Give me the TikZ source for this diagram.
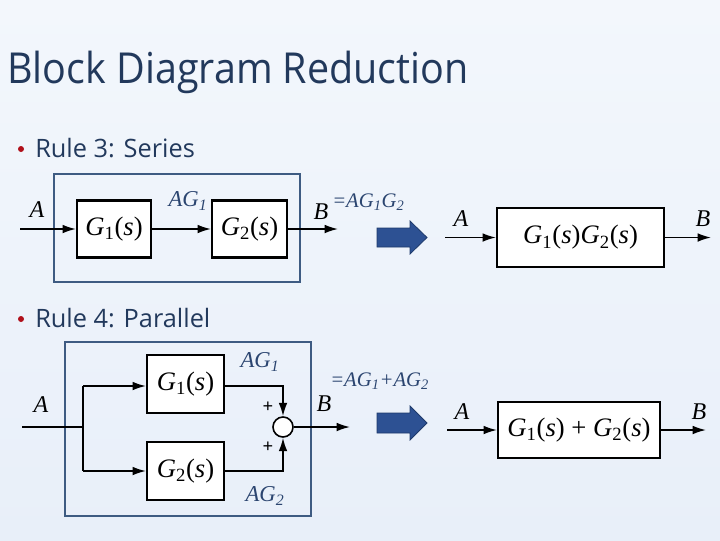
\documentclass[tikz,border=0pt]{standalone}
\usepackage{fontspec}
\setmainfont{Liberation Serif}
\newfontfamily\uifont{Open Sans}
\usetikzlibrary{arrows.meta,positioning}
\definecolor{bgA}{HTML}{F3F7FC}
\definecolor{bgB}{HTML}{E8EFF9}
\definecolor{titleblue}{HTML}{22395C}
\definecolor{lblblue}{HTML}{2B4570}
\definecolor{framec}{HTML}{3E5B82}
\definecolor{arrfill}{HTML}{2D5193}
\definecolor{arredge}{HTML}{1E3A6B}
\definecolor{bulletred}{HTML}{B0101A}
\newcommand{\Gs}[1]{\textit{G}\textsubscript{#1}(\textit{s})}
\begin{document}
\begin{tikzpicture}[x=0.75pt,y=-0.75pt,
  blk/.style={draw=black,line width=1.6pt,fill=white,inner sep=0pt,font=\fontsize{20}{20}\selectfont},
  frame/.style={draw=framec,line width=0.8pt,inner sep=0pt},
  sig/.style={line width=1.2pt,-{Latex[length=10pt,width=6.5pt]}},
  wire/.style={line width=1.2pt},
  lbl/.style={font=\fontsize{18}{18}\selectfont\itshape,inner sep=0pt},
  blbl/.style={font=\fontsize{17}{17}\selectfont\itshape,text=lblblue,inner sep=0pt},
  slbl/.style={font=\fontsize{15.5}{15.5}\selectfont\itshape,text=lblblue,inner sep=0pt},
  pls/.style={font=\bfseries\fontsize{14}{14}\selectfont,inner sep=0pt},
  bigarrow/.style={fill=arrfill,draw=arredge,line width=0.6pt},
  bul/.style={font=\uifont\fontsize{19}{19}\selectfont,text=titleblue,anchor=base west,inner sep=0pt}]
\useasboundingbox (0,0) rectangle (720,540);
\shade[top color=bgA,bottom color=bgB] (0,0) rectangle (720,540);
% title
\node[font=\uifont\fontsize{32}{32}\selectfont,text=titleblue,anchor=base west,inner sep=0pt] (title) at (7,83) {\scalebox{0.925}[1]{Block Diagram Reduction}};
% bullets
\fill[bulletred] (21,149) circle (3);
\node[bul] (r3) at (35,157) {Rule 3: Series};
\fill[bulletred] (21,319) circle (3);
\node[bul] (r4) at (35,327) {Rule 4: Parallel};
% ---------- series ----------
\node[frame,minimum width=246*0.75pt,minimum height=108*0.75pt] (fr1) at (177,228) {};
\node[blk,minimum width=74*0.75pt,minimum height=57*0.75pt] (g1a) at (114,229) {\Gs{1}};
\node[blk,minimum width=75*0.75pt,minimum height=57*0.75pt] (g2a) at (249.5,229) {\Gs{2}};
\coordinate (inA) at (20,229);
\coordinate (outB) at (338,229);
\draw[sig] (inA) -- (g1a);
\draw[sig] (g1a) -- (g2a);
\draw[sig] (g2a) -- (outB);
\node[lbl] (lA1) at (37,210) {A};
\node[blbl] (lAG1a) at (188,201) {AG\textsubscript{1}};
\node[lbl] (lB1) at (321,212) {B};
\node[slbl,anchor=west] (lEq1) at (332,202) {=AG\textsubscript{1}G\textsubscript{2}};
\draw[bigarrow] (377,228) -- (410,228) -- (410,221) -- (427,237.5) -- (410,254) -- (410,247) -- (377,247) -- cycle;
\node[blk,minimum width=167*0.75pt,minimum height=59*0.75pt] (g12) at (580.5,237.5) {\Gs{1}\Gs{2}};
\coordinate (inA2) at (445,237.5);
\coordinate (outB2) at (711,237.5);
\draw[sig] (inA2) -- (g12);
\draw[sig] (g12) -- (outB2);
\node[lbl] (lA2) at (461,219) {A};
\node[lbl] (lB2) at (703,219) {B};
% ---------- parallel ----------
\node[frame,minimum width=246*0.75pt,minimum height=174*0.75pt] (fr2) at (188,429) {};
\node[blk,minimum width=77*0.75pt,minimum height=58*0.75pt] (g1b) at (185.5,384) {\Gs{1}};
\node[blk,minimum width=77*0.75pt,minimum height=58*0.75pt] (g2b) at (185.5,471) {\Gs{2}};
\node[draw=black,line width=1.2pt,fill=white,circle,minimum size=20*0.75pt,inner sep=0pt] (sum) at (283,427) {};
\coordinate (inP) at (22,427);
\coordinate (brM) at (83,427);
\coordinate (brT) at (83,386);
\coordinate (brB) at (83,471);
\coordinate (outP) at (350,427);
\draw[wire] (inP) -- (brM);
\draw[wire] (brT) -- (brB);
\draw[sig] (brT) -- (g1b.west |- brT);
\draw[sig] (brB) -- (g2b.west |- brB);
\draw[sig] (g1b.east |- brT) -| (sum.north);
\draw[sig] (g2b.east |- brB) -| (sum.south);
\draw[sig] (sum.east) -- (outP);
\node[pls] (p1) at (268,407) {+};
\node[pls] (p2) at (268,447) {+};
\node[lbl] (lA3) at (41,405) {A};
\node[lbl] (lB3) at (324,404) {B};
\node[blbl] (lAG1b) at (260,362) {AG\textsubscript{1}};
\node[blbl] (lAG2b) at (265,496) {AG\textsubscript{2}};
\node[slbl,anchor=west] (lEq2) at (330,381) {=AG\textsubscript{1}+AG\textsubscript{2}};
\draw[bigarrow] (377,413) -- (410,413) -- (410,406) -- (427,423) -- (410,440) -- (410,433) -- (377,433) -- cycle;
\node[blk,minimum width=162*0.75pt,minimum height=56*0.75pt] (g12p) at (579,430) {\Gs{1} + \Gs{2}};
\coordinate (inA4) at (447,430);
\coordinate (outB4) at (706,430);
\draw[sig] (inA4) -- (g12p);
\draw[sig] (g12p) -- (outB4);
\node[lbl] (lA4) at (462,412) {A};
\node[lbl] (lB4) at (699,412) {B};
\end{tikzpicture}
\end{document}
